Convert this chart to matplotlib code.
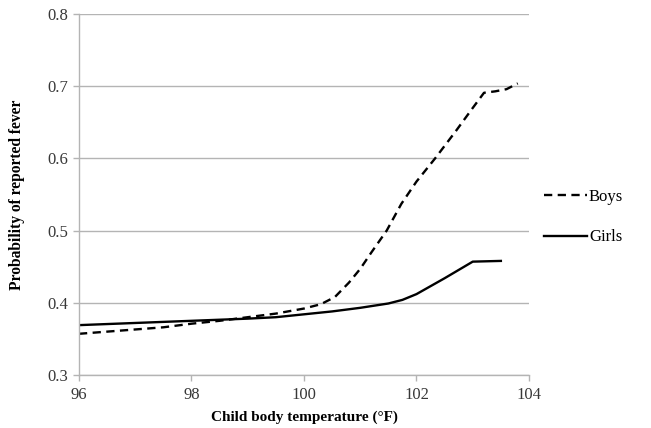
import matplotlib
matplotlib.use("Agg")
import matplotlib.pyplot as plt

boys_x = [96.0, 96.5, 97.0, 97.5, 98.0, 98.5, 99.0, 99.5, 100.0, 100.3, 100.55, 100.8,
          101.0, 101.2, 101.47, 101.73, 102.0, 102.33, 102.7, 103.0, 103.2, 103.4, 103.6, 103.8]
boys_y = [0.357, 0.360, 0.363, 0.366, 0.371, 0.375, 0.380, 0.385, 0.392, 0.398, 0.408, 0.428,
          0.447, 0.470, 0.500, 0.537, 0.568, 0.600, 0.638, 0.670, 0.691, 0.693, 0.696, 0.704]

girls_x = [96.0, 97.0, 98.0, 99.0, 99.5, 100.0, 100.5, 101.0, 101.5, 101.75, 102.0, 102.5, 103.0, 103.5]
girls_y = [0.369, 0.372, 0.375, 0.378, 0.380, 0.384, 0.388, 0.393, 0.399, 0.404, 0.412, 0.434, 0.457, 0.458]

x_ticks = [96, 98, 100, 102, 104]
y_ticks = [0.3, 0.4, 0.5, 0.6, 0.7, 0.8]

plt.rcParams['font.family'] = ['Liberation Serif', 'DejaVu Serif']

fig = plt.figure(figsize=(6.51, 4.28), dpi=100)
ax = fig.add_axes([0.1213, 0.124, 0.8126 - 0.1213, 0.967 - 0.124])

grid_c = '#b4b4b4'
ax.set_xlim(96, 104)
ax.set_ylim(0.3, 0.8)
ax.set_xticks(x_ticks)
ax.set_yticks(y_ticks)
ax.set_xticklabels([str(t) for t in x_ticks])
ax.set_yticklabels([f"{t:.1f}" for t in y_ticks])
ax.yaxis.grid(True, color=grid_c, linewidth=1.0)
ax.set_axisbelow(True)
for s in ['top', 'right']:
    ax.spines[s].set_visible(False)
for s in ['left', 'bottom']:
    ax.spines[s].set_color(grid_c)
    ax.spines[s].set_linewidth(1.0)
ax.tick_params(axis='both', colors=grid_c, labelcolor='#383838', labelsize=12, length=4, width=1.0)
ax.tick_params(axis='x', pad=5)

ax.plot(boys_x, boys_y, color='black', linewidth=1.7, linestyle=(0, (3.5, 2.3)), label='Boys')
ax.plot(girls_x, girls_y, color='black', linewidth=1.7, linestyle='-', label='Girls')

ax.set_xlabel('Child body temperature (°F)', fontsize=11, fontweight='bold', labelpad=5)
ax.set_ylabel('Probability of reported fever', fontsize=11.2, fontweight='bold', labelpad=16)

leg = ax.legend(loc='center left', bbox_to_anchor=(1.0, 0.437), frameon=False, fontsize=12,
                handlelength=2.55, handletextpad=0.15, labelspacing=1.45, borderaxespad=0.5)

fig.savefig('out.png', dpi=100)
